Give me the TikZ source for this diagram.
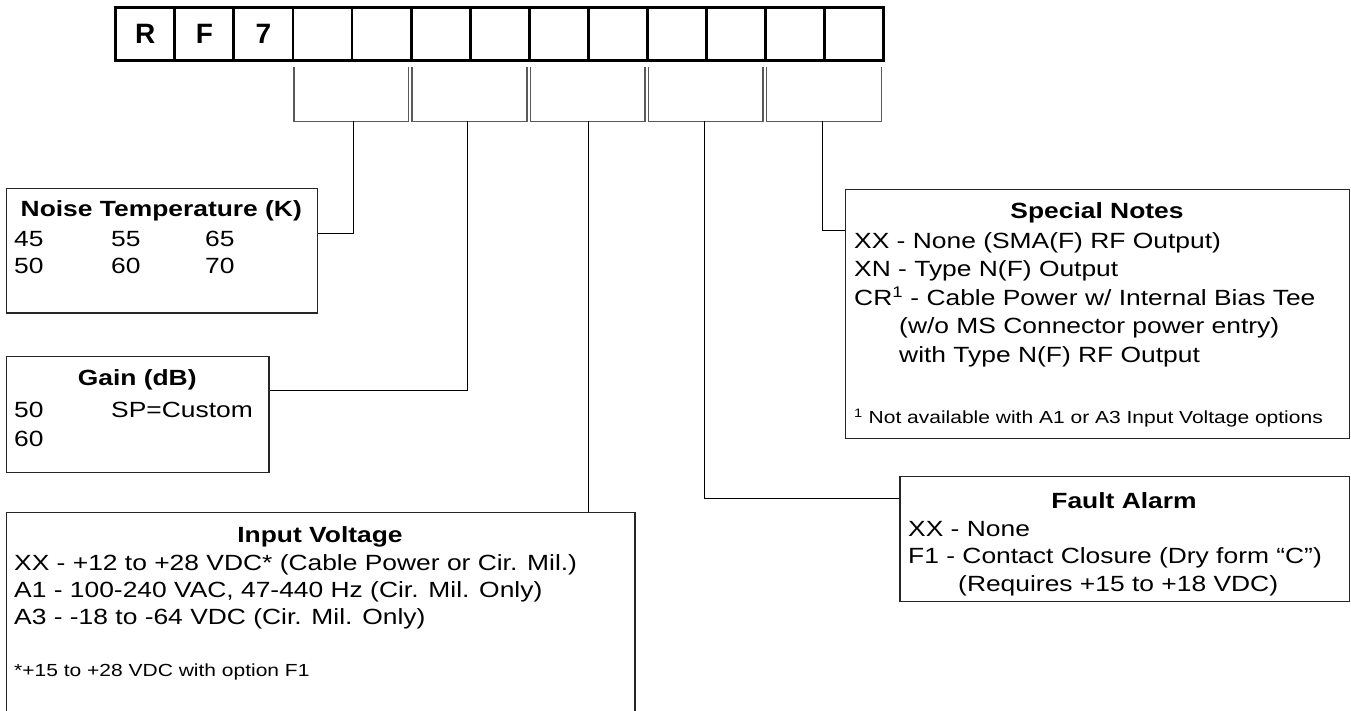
\documentclass[tikz,border=0pt]{standalone}
\usepackage{fontspec}
\setmainfont{Liberation Sans}[FakeStretch=1.2]
\newfontfamily\cellfont{Liberation Sans}
\begin{document}
\begin{tikzpicture}[x=1pt,y=-1pt,
  cell/.style={draw,line width=2.8pt,minimum width=59.08pt,minimum height=53.4pt,inner sep=0pt,
    font=\cellfont\bfseries\fontsize{28}{30}\selectfont},
  optbox/.style={draw=black!85,line width=1.2pt,anchor=north west,inner sep=0pt},
  wire/.style={line width=1pt},
  brk/.style={draw=black!65,line width=1.5pt},
  body/.style={anchor=base west,inner sep=0pt,font=\fontsize{22}{26}\selectfont},
  ttl/.style={anchor=base,inner sep=0pt,font=\bfseries\fontsize{22}{26}\selectfont},
  note/.style={anchor=base west,inner sep=0pt,font=\fontsize{17.5}{21}\selectfont},
]
\useasboundingbox (0,0) rectangle (1351,711);

% model code cells
\node[cell] (c0) at (145.24,34) {R};
\node[cell] (c1) at (204.32,34) {F};
\node[cell] (c2) at (263.40,34) {7};
\foreach \k in {3,...,12} \node[cell] (c\k) at ({145.24+59.08*\k},34) {};

% brackets
\foreach \i/\m in {0/353.5,1/467.3,2/588,3/704.7,4/822} {
  \pgfmathsetmacro\L{115.7+59.08*(3+2*\i)+1}
  \pgfmathsetmacro\R{115.7+59.08*(5+2*\i)-2.5}
  \draw[brk] (\L,67.5) -- (\L,121.5) -- (\R,121.5) -- (\R,67.5);
  \coordinate (g\i) at (\m,121.5);
}

% option boxes
\node[optbox,minimum width=310.7pt,minimum height=124.6pt] (noise) at (6,187.7) {};
\node[optbox,minimum width=262.3pt,minimum height=116pt] (gain) at (6,355.7) {};
\node[optbox,minimum width=628.3pt,minimum height=202pt] (input) at (6,511.7) {};
\node[optbox,minimum width=504pt,minimum height=249pt] (special) at (845,189) {};
\node[optbox,minimum width=449.7pt,minimum height=125pt] (fault) at (899.3,476) {};

% connectors
\draw[wire] (g0) |- ([yshift=-45.6pt]noise.north east);
\draw[wire] (g1) |- ([yshift=-34.3pt]gain.north east);
\draw[wire] (g2) -- (g2 |- input.north);
\draw[wire] (g3) |- ([yshift=-22pt]fault.north west);
\draw[wire] (g4) |- ([yshift=-41.3pt]special.north west);

% Noise temperature
\node[ttl] (nt) at (161.3,217) {Noise Temperature (K)};
\node[body] (n1) at (14,247) {45};
\node[body] (n2) at (111,247) {55};
\node[body] (n3) at (205,247) {65};
\node[body] (n4) at (14,273) {50};
\node[body] (n5) at (111,273) {60};
\node[body] (n6) at (205,273) {70};

% Gain
\node[ttl] (gt) at (137.2,385) {Gain (dB)};
\node[body] (g50) at (14,417) {50};
\node[body] (gsp) at (111,417) {SP=Custom};
\node[body] (g60) at (14,446) {60};

% Input voltage
\node[ttl] (it) at (320,542) {Input Voltage};
\node[body] (i1) at (14,570) {XX - +12 to +28 VDC* (Cable Power or Cir. Mil.)};
\node[body] (i2) at (14,597) {A1 - 100-240 VAC, 47-440 Hz (Cir. Mil. Only)};
\node[body] (i3) at (14,624) {A3 - -18 to -64 VDC (Cir. Mil. Only)};
\node[note] (i4) at (14,676) {*+15 to +28 VDC with option F1};

% Special notes
\node[ttl] (st) at (1097,219) {Special Notes};
\node[body] (s1) at (854,248) {XX - None (SMA(F) RF Output)};
\node[body] (s2) at (854,276.5) {XN - Type N(F) Output};
\node[body] (s3) at (854,305) {CR\textsuperscript{1} - Cable Power w/ Internal Bias Tee};
\node[body] (s4) at (899,333.5) {(w/o MS Connector power entry)};
\node[body] (s5) at (899,362) {with Type N(F) RF Output};
\node[note] (s6) at (854,423.3) {\textsuperscript{1} Not available with A1 or A3 Input Voltage options};

% Fault alarm
\node[ttl] (ft) at (1124,508.3) {Fault Alarm};
\node[body] (f1) at (908,536) {XX - None};
\node[body] (f2) at (908,563.5) {F1 - Contact Closure (Dry form “C”)};
\node[body] (f3) at (958,591) {(Requires +15 to +18 VDC)};
\end{tikzpicture}
\end{document}
